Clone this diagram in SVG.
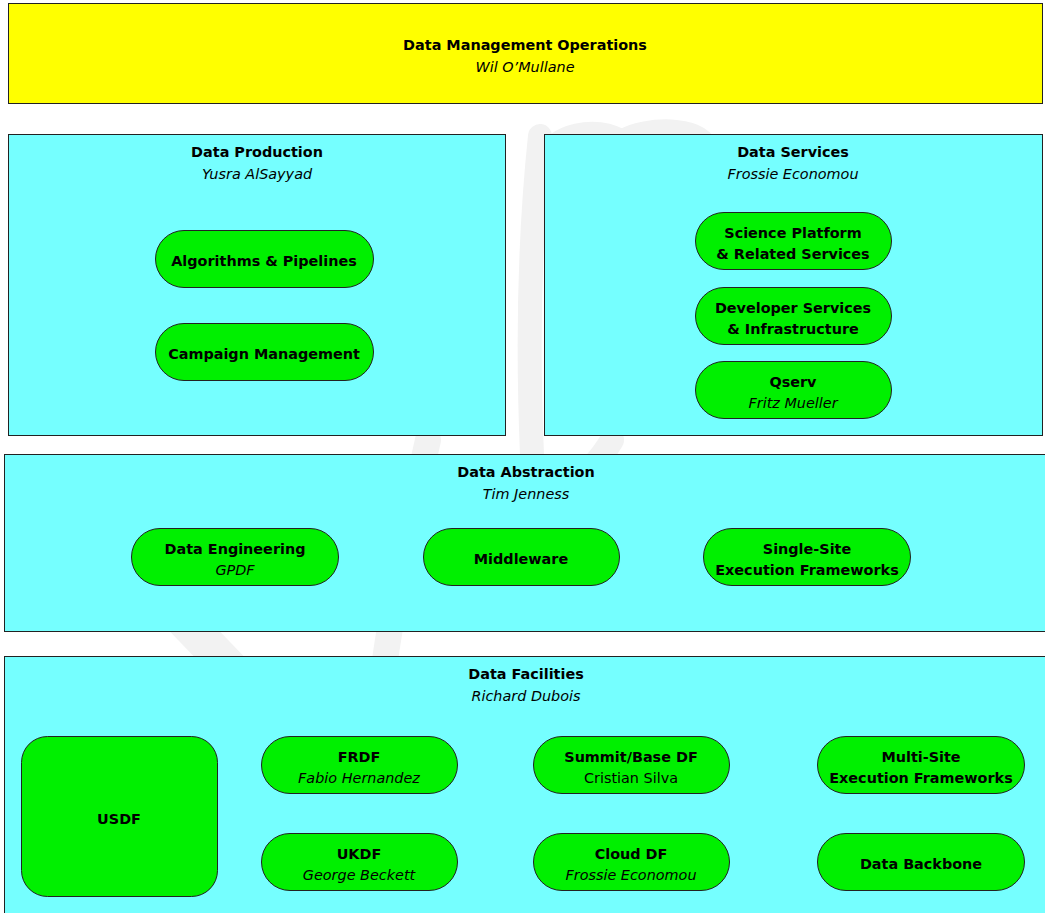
<svg xmlns="http://www.w3.org/2000/svg" width="1045" height="913" viewBox="0 0 1045 913">
<style>
.box{fill:#75ffff;stroke:#222;stroke-width:1}
.top{fill:#ffff00;stroke:#222;stroke-width:1}
.pill{fill:#00f000;stroke:#222;stroke-width:1}
text{font-family:"DejaVu Sans",Verdana,sans-serif;font-size:14.4px;fill:#000;text-anchor:middle}
.b{font-weight:bold}
.i{font-style:italic}
.wm{fill:none;stroke:#f2f2f2;stroke-linecap:round}
</style>
<rect width="1045" height="913" fill="#fff"/>
<g id="watermark">
<path class="wm" stroke-width="24" d="M540 136 C528 250 528 360 532 455"/>
<path class="wm" stroke-width="18" d="M540 160 C555 130 595 124 622 138 C648 124 698 124 708 145"/>
<path class="wm" stroke-width="26" d="M428 440 C410 520 395 590 385 660"/>
<path class="wm" stroke-width="24" d="M612 440 C600 460 590 470 575 480"/>
<path class="wm" stroke-width="36" d="M155 590 L230 668"/>
</g>
<g id="dm-ops">
<rect class="top" x="8.5" y="3.5" width="1034" height="100"/>
<text class="b" x="525" y="50">Data Management Operations</text>
<text class="i" x="525" y="72">Wil O’Mullane</text>
</g>
<g id="data-production">
<rect class="box" x="8.5" y="134.5" width="497" height="301"/>
<text class="b" x="257" y="157">Data Production</text>
<text class="i" x="257" y="179">Yusra AlSayyad</text>
</g>
<g id="algorithms">
<rect class="pill" x="155.5" y="230.5" width="218" height="57" rx="28.5"/>
<text class="b" x="264" y="266">Algorithms &amp; Pipelines</text>
</g>
<g id="campaign">
<rect class="pill" x="155.5" y="323.5" width="218" height="57" rx="28.5"/>
<text class="b" x="264" y="359">Campaign Management</text>
</g>
<g id="data-services">
<rect class="box" x="544.5" y="134.5" width="498" height="301"/>
<text class="b" x="793" y="157">Data Services</text>
<text class="i" x="793" y="179">Frossie Economou</text>
</g>
<g id="science-platform">
<rect class="pill" x="695.5" y="212.5" width="196" height="57" rx="28.5"/>
<text class="b" x="793" y="238">Science Platform</text>
<text class="b" x="793" y="259">&amp; Related Services</text>
</g>
<g id="developer-services">
<rect class="pill" x="695.5" y="287.5" width="196" height="57" rx="28.5"/>
<text class="b" x="793" y="313">Developer Services</text>
<text class="b" x="793" y="334">&amp; Infrastructure</text>
</g>
<g id="qserv">
<rect class="pill" x="695.5" y="361.5" width="196" height="57" rx="28.5"/>
<text class="b" x="793" y="387">Qserv</text>
<text class="i" x="793" y="408">Fritz Mueller</text>
</g>
<g id="data-abstraction">
<rect class="box" x="4.5" y="454.5" width="1045" height="177"/>
<text class="b" x="526" y="477">Data Abstraction</text>
<text class="i" x="526" y="499">Tim Jenness</text>
</g>
<g id="data-engineering">
<rect class="pill" x="131.5" y="528.5" width="207" height="57" rx="28.5"/>
<text class="b" x="235" y="554">Data Engineering</text>
<text class="i" x="235" y="575">GPDF</text>
</g>
<g id="middleware">
<rect class="pill" x="423.5" y="528.5" width="196" height="57" rx="28.5"/>
<text class="b" x="521" y="564">Middleware</text>
</g>
<g id="single-site">
<rect class="pill" x="703.5" y="528.5" width="207" height="57" rx="28.5"/>
<text class="b" x="807" y="554">Single-Site</text>
<text class="b" x="807" y="575">Execution Frameworks</text>
</g>
<g id="data-facilities">
<rect class="box" x="4.5" y="656.5" width="1045" height="270"/>
<text class="b" x="526" y="679">Data Facilities</text>
<text class="i" x="526" y="701">Richard Dubois</text>
</g>
<g id="usdf">
<rect class="pill" x="21.5" y="736.5" width="196" height="160" rx="26"/>
<text class="b" x="119" y="824">USDF</text>
</g>
<g id="frdf">
<rect class="pill" x="261.5" y="736.5" width="196" height="57" rx="28.5"/>
<text class="b" x="359" y="762">FRDF</text>
<text class="i" x="359" y="783">Fabio Hernandez</text>
</g>
<g id="summit-base">
<rect class="pill" x="533.5" y="736.5" width="196" height="57" rx="28.5"/>
<text class="b" x="631" y="762">Summit/Base DF</text>
<text x="631" y="783">Cristian Silva</text>
</g>
<g id="multi-site">
<rect class="pill" x="817.5" y="736.5" width="207" height="57" rx="28.5"/>
<text class="b" x="921" y="762">Multi-Site</text>
<text class="b" x="921" y="783">Execution Frameworks</text>
</g>
<g id="ukdf">
<rect class="pill" x="261.5" y="833.5" width="196" height="57" rx="28.5"/>
<text class="b" x="359" y="859">UKDF</text>
<text class="i" x="359" y="880">George Beckett</text>
</g>
<g id="cloud-df">
<rect class="pill" x="533.5" y="833.5" width="196" height="57" rx="28.5"/>
<text class="b" x="631" y="859">Cloud DF</text>
<text class="i" x="631" y="880">Frossie Economou</text>
</g>
<g id="data-backbone">
<rect class="pill" x="817.5" y="833.5" width="207" height="57" rx="28.5"/>
<text class="b" x="921" y="869">Data Backbone</text>
</g>
<g id="connectors"/>
</svg>
